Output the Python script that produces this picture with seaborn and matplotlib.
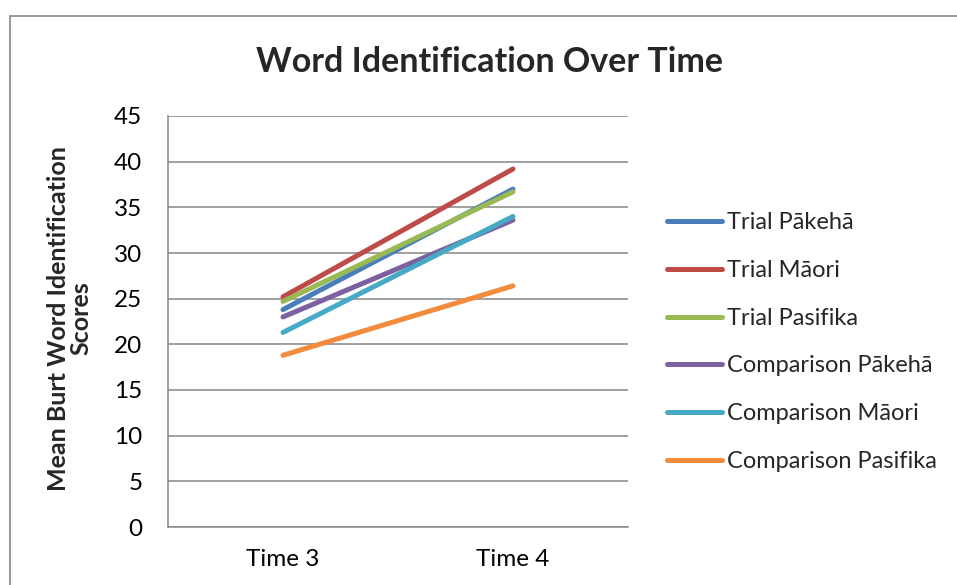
import numpy as np
import pandas as pd
import matplotlib
matplotlib.use("Agg")
import matplotlib.pyplot as plt
import seaborn as sns
from matplotlib.patches import Rectangle

# values
times = ["Time 3", "Time 4"]
groups = ["Trial Pākehā", "Trial Māori", "Trial Pasifika",
          "Comparison Pākehā", "Comparison Māori", "Comparison Pasifika"]
trial_pakeha = [23.8, 37.0]
trial_maori = [25.2, 39.2]
trial_pasifika = [24.7, 36.7]
comp_pakeha = [23.0, 33.6]
comp_maori = [21.3, 34.0]
comp_pasifika = [18.8, 26.4]
colors = ["#4A7EBB", "#BE4B48", "#98B954", "#7D60A0", "#46AAC5", "#F38B3C"]

series = [trial_pakeha, trial_maori, trial_pasifika, comp_pakeha, comp_maori, comp_pasifika]
df = pd.DataFrame([
    {"time": i, "score": v, "group": g}
    for g, vals in zip(groups, series) for i, v in enumerate(vals)
])

sns.set_style("white")
plt.rcParams["font.family"] = ["Lato", "DejaVu Sans"]

fig = plt.figure(figsize=(9.57, 5.85), dpi=100)
ax = fig.add_axes([168 / 957, 1 - 527 / 585, 460 / 957, 411 / 585])

sns.lineplot(data=df, x="time", y="score", hue="group", hue_order=groups,
             palette=colors, linewidth=3.6, ax=ax, legend=False,
             solid_capstyle="round")

ax.set_xlim(-0.5, 1.5)
ax.set_ylim(0, 45)
ax.set_yticks(range(0, 46, 5))
ax.set_xticks([0, 1])
ax.set_xticklabels(times)
ax.set_xlabel("")
ax.set_ylabel("Mean Burt Word Identification\nScores", fontsize=18,
              fontweight="bold", linespacing=0.95)
ax.yaxis.set_label_coords(-0.165, 0.508)
ax.tick_params(axis="both", length=0, labelsize=17.5, colors="black")
ax.tick_params(axis="y", pad=18.5)
ax.tick_params(axis="x", pad=16)
ax.yaxis.grid(True, color="#868686", linewidth=1.1)
ax.set_axisbelow(True)
for s in ["top", "right"]:
    ax.spines[s].set_visible(False)
for s in ["left", "bottom"]:
    ax.spines[s].set_color("#868686")
    ax.spines[s].set_linewidth(1.1)

handles = [plt.Line2D([], [], color=c, linewidth=3.6, solid_capstyle="round") for c in colors]
fig.legend(handles, groups, loc="upper left", bbox_to_anchor=(658 / 957, 1 - 203 / 585),
           frameon=False, fontsize=17, handlelength=2.33, handletextpad=0.21,
           labelspacing=1.13, borderaxespad=0)

fig.text(490 / 957, 1 - 62 / 585, "Word Identification Over Time",
         ha="center", va="center", fontsize=24.5, fontweight="bold")

fig.patches.append(Rectangle((10 / 957, -0.1), 1.2, 1.1 - 16 / 585,
                             transform=fig.transFigure, fill=False,
                             edgecolor="#868686", linewidth=1.2))

fig.savefig("out.png", dpi=100, facecolor="white")
